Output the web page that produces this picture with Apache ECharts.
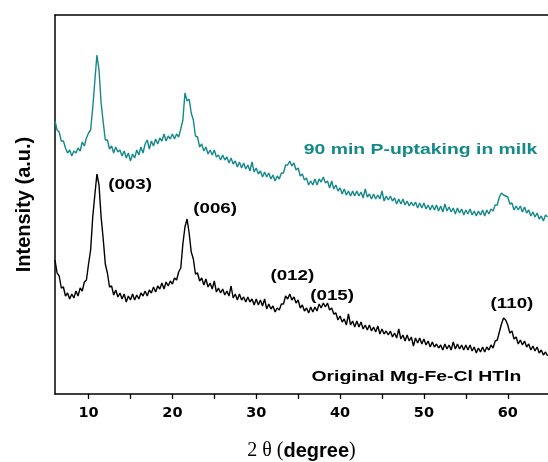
<!DOCTYPE html>
<html>
<head>
<meta charset="utf-8">
<script src="https://cdn.jsdelivr.net/npm/echarts@6/dist/echarts.min.js"></script>
<style>
  html, body { margin: 0; padding: 0; background: #fff; }
  #chart { width: 548px; height: 462px; }
</style>
</head>
<body>
<div id="chart"></div>
<script>
// XRD scan: 2θ from 6° in 0.25° steps
const twoThetaStart = 6;
const twoThetaStep = 0.25;

// 90 min P-uptaking in milk (a.u.)
const uptakeMilk = [
  273,264,262,253,253,246,241,244,
  238,243,241,246,243,252,248,256,
  261,264,286,313,339,324,291,272,
  254,254,245,248,241,247,242,244,
  238,243,236,241,233,240,236,244,
  239,247,241,250,254,245,253,248,
  255,250,256,253,260,253,258,255,
  260,255,260,257,265,274,301,293,
  295,281,274,258,257,247,250,243,
  247,240,244,239,244,237,239,234,
  239,234,237,231,236,230,233,227,
  232,226,231,225,229,223,232,222,
  226,220,223,217,222,217,221,215,
  219,213,218,215,221,221,229,229,
  233,228,231,224,226,218,220,214,
  216,209,213,209,215,209,215,212,
  217,211,213,206,213,205,209,203,
  206,200,205,199,203,198,203,198,
  203,198,202,196,205,197,200,195,
  200,195,199,195,203,193,198,194,
  198,193,196,190,195,190,195,189,
  193,188,192,188,192,186,191,186,
  191,185,189,184,189,184,189,183,
  188,182,190,183,187,182,186,180,
  186,181,185,179,184,180,185,179,
  183,178,183,179,184,178,184,180,
  185,183,189,189,197,201,199,198,
  197,190,191,184,188,184,188,182,
  187,181,184,178,182,177,181,175,
  178,173,179,177
];

// Original Mg-Fe-Cl HTln (a.u.)
const original = [
  134,121,118,106,107,98,101,95,
  100,96,103,98,106,103,112,114,
  130,144,177,199,220,209,177,155,
  130,121,107,108,99,104,97,101,
  95,100,92,98,94,100,94,99,
  95,101,98,103,98,104,101,107,
  102,108,105,111,105,112,108,113,
  110,116,114,122,126,150,167,175,
  161,142,135,120,121,113,116,109,
  115,107,111,105,113,102,106,101,
  105,99,103,98,108,96,100,94,
  100,94,97,92,97,92,95,89,
  95,89,94,88,95,85,90,85,
  88,82,86,84,90,90,98,95,
  100,94,97,91,94,86,89,83,
  86,81,87,82,87,83,90,86,
  91,87,91,84,86,80,81,74,
  78,72,75,69,80,69,73,67,
  73,67,72,65,69,64,69,63,
  67,62,68,60,65,60,63,59,
  63,57,61,56,65,55,59,53,
  59,53,57,48,56,51,56,50,
  55,49,53,47,52,47,50,46,
  49,44,50,45,49,44,52,45,
  50,45,49,44,49,44,49,43,
  47,41,46,42,47,42,47,44,
  49,46,53,54,62,70,76,74,
  69,61,63,55,57,50,54,49,
  53,47,50,44,48,43,47,41,
  44,39,42,38
];

// Axis ticks
const majorTicks = [10, 20, 30, 40, 50, 60];
const allTicks = [10, 15, 20, 25, 30, 35, 40, 45, 50, 55, 60, 65];

// Reflection indices and where their labels sit (2θ, intensity)
const peakNames = ['(003)', '(006)', '(012)', '(015)', '(110)'];
const peakLabelPos = [[14.95, 209], [25.1, 185], [34.3, 118], [39.05, 98], [60.5, 90]];

// Sample names and their label anchors (2θ, intensity)
const sampleNames = ['90 min P-uptaking in milk', 'Original Mg-Fe-Cl HTln'];
const sampleLabelPos = [[49.6, 244], [49.1, 17]];

const TEAL = '#14898a';
const SANS = '"Liberation Sans", Arial, sans-serif';
const WIDE = '"DejaVu Sans", "Liberation Sans", sans-serif';
const SERIF = '"Liberation Serif", "Times New Roman", serif';
const TEXT_STRETCH = 1.25;

const toPairs = arr => arr.map((v, i) => [twoThetaStart + i * twoThetaStep, v]);

const chart = echarts.init(document.getElementById('chart'), null, { renderer: 'canvas' });

chart.setOption({
  animation: false,
  backgroundColor: '#fff',
  grid: { left: 55, right: 0, top: 15, bottom: 68, containLabel: false, outerBoundsMode: 'none' },
  xAxis: [{
    type: 'value',
    min: 6,
    max: 64.8,
    position: 'bottom',
    axisLine: { show: true, onZero: false, lineStyle: { color: '#000', width: 1.5 } },
    axisTick: { show: true, inside: false, length: 5, customValues: allTicks, lineStyle: { color: '#000', width: 1.3 } },
    axisLabel: {
      show: true, customValues: majorTicks, margin: 12,
      color: '#000', fontFamily: WIDE, fontWeight: 'bold', fontSize: 14.5
    },
    splitLine: { show: false },
    name: '{s|2 θ (}{b|degree}{s|)}',
    nameLocation: 'middle',
    nameGap: 47,
    nameTextStyle: {
      rich: {
        s: { fontFamily: SERIF, fontSize: 20, color: '#000' },
        b: { fontFamily: SANS, fontSize: 20, fontWeight: 'bold', color: '#000' }
      }
    }
  }, {
    type: 'value',
    min: 6,
    max: 64.8,
    position: 'top',
    axisLine: { show: true, onZero: false, lineStyle: { color: '#000', width: 1.5 } },
    axisTick: { show: false },
    axisLabel: { show: false },
    splitLine: { show: false }
  }],
  yAxis: {
    type: 'value',
    min: 0,
    max: 379,
    axisLine: { show: true, onZero: false, lineStyle: { color: '#000', width: 1.5 } },
    axisTick: { show: false },
    axisLabel: { show: false },
    splitLine: { show: false },
    name: 'Intensity (a.u.)',
    nameLocation: 'middle',
    nameGap: 21,
    nameTextStyle: { fontFamily: SANS, fontSize: 20, fontWeight: 'bold', color: '#000' }
  },
  series: [{
    name: sampleNames[0],
    type: 'line',
    data: toPairs(uptakeMilk),
    showSymbol: false,
    symbol: 'none',
    sampling: null,
    lineStyle: { color: TEAL, width: 1.4 }
  }, {
    name: sampleNames[1],
    type: 'line',
    data: toPairs(original),
    showSymbol: false,
    symbol: 'none',
    sampling: null,
    lineStyle: { color: '#000', width: 1.4 }
  }]
});

// Text annotations placed through the axes' own scales
const texts = [];
peakNames.forEach((name, i) => {
  const p = chart.convertToPixel({ xAxisIndex: 0, yAxisIndex: 0 }, peakLabelPos[i]);
  texts.push({
    type: 'text', x: p[0], y: p[1], scaleX: TEXT_STRETCH,
    style: { text: name, fill: '#000', font: 'bold 15px ' + SANS, align: 'center', verticalAlign: 'middle' }
  });
});
sampleNames.forEach((name, i) => {
  const p = chart.convertToPixel({ xAxisIndex: 0, yAxisIndex: 0 }, sampleLabelPos[i]);
  texts.push({
    type: 'text', x: p[0], y: p[1], scaleX: TEXT_STRETCH,
    style: { text: name, fill: i === 0 ? TEAL : '#000', font: 'bold 15.5px ' + SANS, align: 'center', verticalAlign: 'middle' }
  });
});
chart.setOption({ graphic: texts });
</script>
</body>
</html>
